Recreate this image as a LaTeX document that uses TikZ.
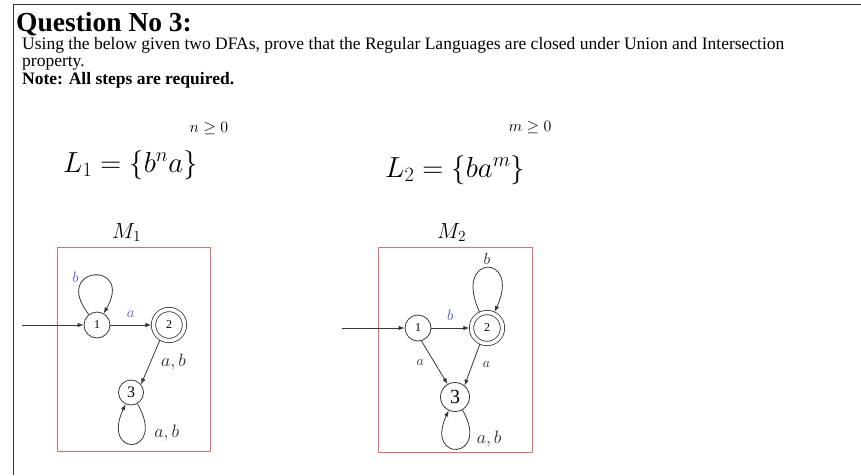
\documentclass[tikz,border=0pt]{standalone}
\usepackage{fix-cm}
\usepackage{fontspec}
\setmainfont{Liberation Serif}
\usepackage{tikz}
\usetikzlibrary{arrows.meta, positioning}

\definecolor{boxred}{RGB}{240,105,105}
\definecolor{lblblue}{RGB}{80,80,215}
\definecolor{linegray}{RGB}{55,55,55}

\begin{document}
\begin{tikzpicture}[x=1pt, y=-1pt, >={Latex[length=6pt, width=4.5pt]},
    txt/.style={anchor=base west, inner sep=0pt, font=\fontsize{17.5}{17.5}\selectfont},
    formula/.style={anchor=base west, inner sep=0pt, font=\fontsize{29}{29}\selectfont},
    dfaname/.style={anchor=base west, inner sep=0pt, font=\fontsize{22}{22}\selectfont},
    state/.style={draw=linegray, line width=0.8pt, circle, inner sep=0pt, minimum size=26pt, font=\fontsize{12}{12}\selectfont},
    accept/.style={state, double, double distance=3.5pt, minimum size=30pt, outer sep=2.2pt},
    trans/.style={->, draw=linegray, line width=0.8pt},
    lbl/.style={text=black!85, font=\fontsize{18}{18}\selectfont},
    smalllbl/.style={text=black!85, font=\fontsize{14}{14}\selectfont},
    bluelbl/.style={text=lblblue, font=\fontsize{15}{15}\selectfont},
    dfabox/.style={draw=boxred, line width=1.2pt}]

\useasboundingbox (0,0) rectangle (861,475);

% --- Page frame ---
\draw[line width=1.5pt, black!80] (13.5,475) -- (13.5,4.5) -- (861,4.5);

% --- Question text ---
\node[txt, font=\fontsize{27.5}{27.5}\selectfont\bfseries] (title) at (16,31) {Question No 3:};
\node[txt] (task) at (22,49) {Using the below given two DFAs, prove that the Regular Languages are closed under Union and Intersection};
\node[txt] (taskend) at (22,66) {property.};
\node[txt, font=\fontsize{17.5}{17.5}\selectfont\bfseries] (note) at (22,84) {Note: All steps are required.};

% --- Languages ---
\node[formula] (lang1) at (63,172) {$L_1 = \{b^n a\}$};
\node[font=\fontsize{16}{16}\selectfont] (cond1) at (209,128) {$n \geq 0$};
\node[formula] (lang2) at (385,177) {$L_2 = \{ba^m\}$};
\node[font=\fontsize{16}{16}\selectfont] (cond2) at (530,127) {$m \geq 0$};

% --- DFA M1 ---
\node[dfaname] (name1) at (112,238.5) {$M_1$};
\draw[dfabox] (57.3,247.3) rectangle (210.7,451.7);
\node[state] (m1s1) at (97,325) {1};
\node[accept, minimum size=31pt] (m1s2) at (169,325) {2};
\node[state, minimum size=25pt, font=\fontsize{16}{16}\selectfont] (m1s3) at (131,392.5) {3};
\coordinate (m1in) at (22,325);

\draw[trans] (m1in) -- (m1s1);
\draw[trans] (m1s1) -- node[bluelbl, above=4pt] {$a$} (m1s2);
\draw[trans] (m1s1) to[loop, out=128, in=60, min distance=62pt] node[bluelbl, pos=.4, left=4pt] {$b$} (m1s1);
\draw[trans] (m1s2.239) -- node[lbl, right=7pt] {$a,b$} (m1s3.39);
\draw[trans] (m1s3) to[loop, out=-60, in=-115, min distance=60pt] node[lbl, pos=.25, right=6pt] {$a,b$} (m1s3);

% --- DFA M2 ---
\node[dfaname] (name2) at (437,238.5) {$M_2$};
\draw[dfabox] (378.3,247.3) rectangle (532.3,452.7);
\node[state] (m2s1) at (418,328) {1};
\node[accept, minimum size=31pt] (m2s2) at (487,328) {2};
\node[state, minimum size=29pt, font=\fontsize{20}{20}\selectfont] (m2s3) at (455,397) {3};
\coordinate (m2in) at (342,328);

\draw[trans] (m2in) -- (m2s1);
\draw[trans] (m2s1) -- node[bluelbl, above=4pt] {$b$} (m2s2);
\draw[trans] (m2s2) to[loop, out=115, in=65, min distance=65pt] node[text=black!85, font=\fontsize{16}{16}\selectfont, above=0pt] {$b$} (m2s2);
\draw[trans] (m2s1.285) -- node[smalllbl, left=7pt] {$a$} (m2s3.120);
\draw[trans] (m2s2.246) -- node[smalllbl, right=7pt] {$a$} (m2s3.50);
\draw[trans] (m2s3) to[loop, out=-60, in=-115, min distance=58pt] node[lbl, pos=.25, right=4pt] {$a,b$} (m2s3);
\end{tikzpicture}
\end{document}
